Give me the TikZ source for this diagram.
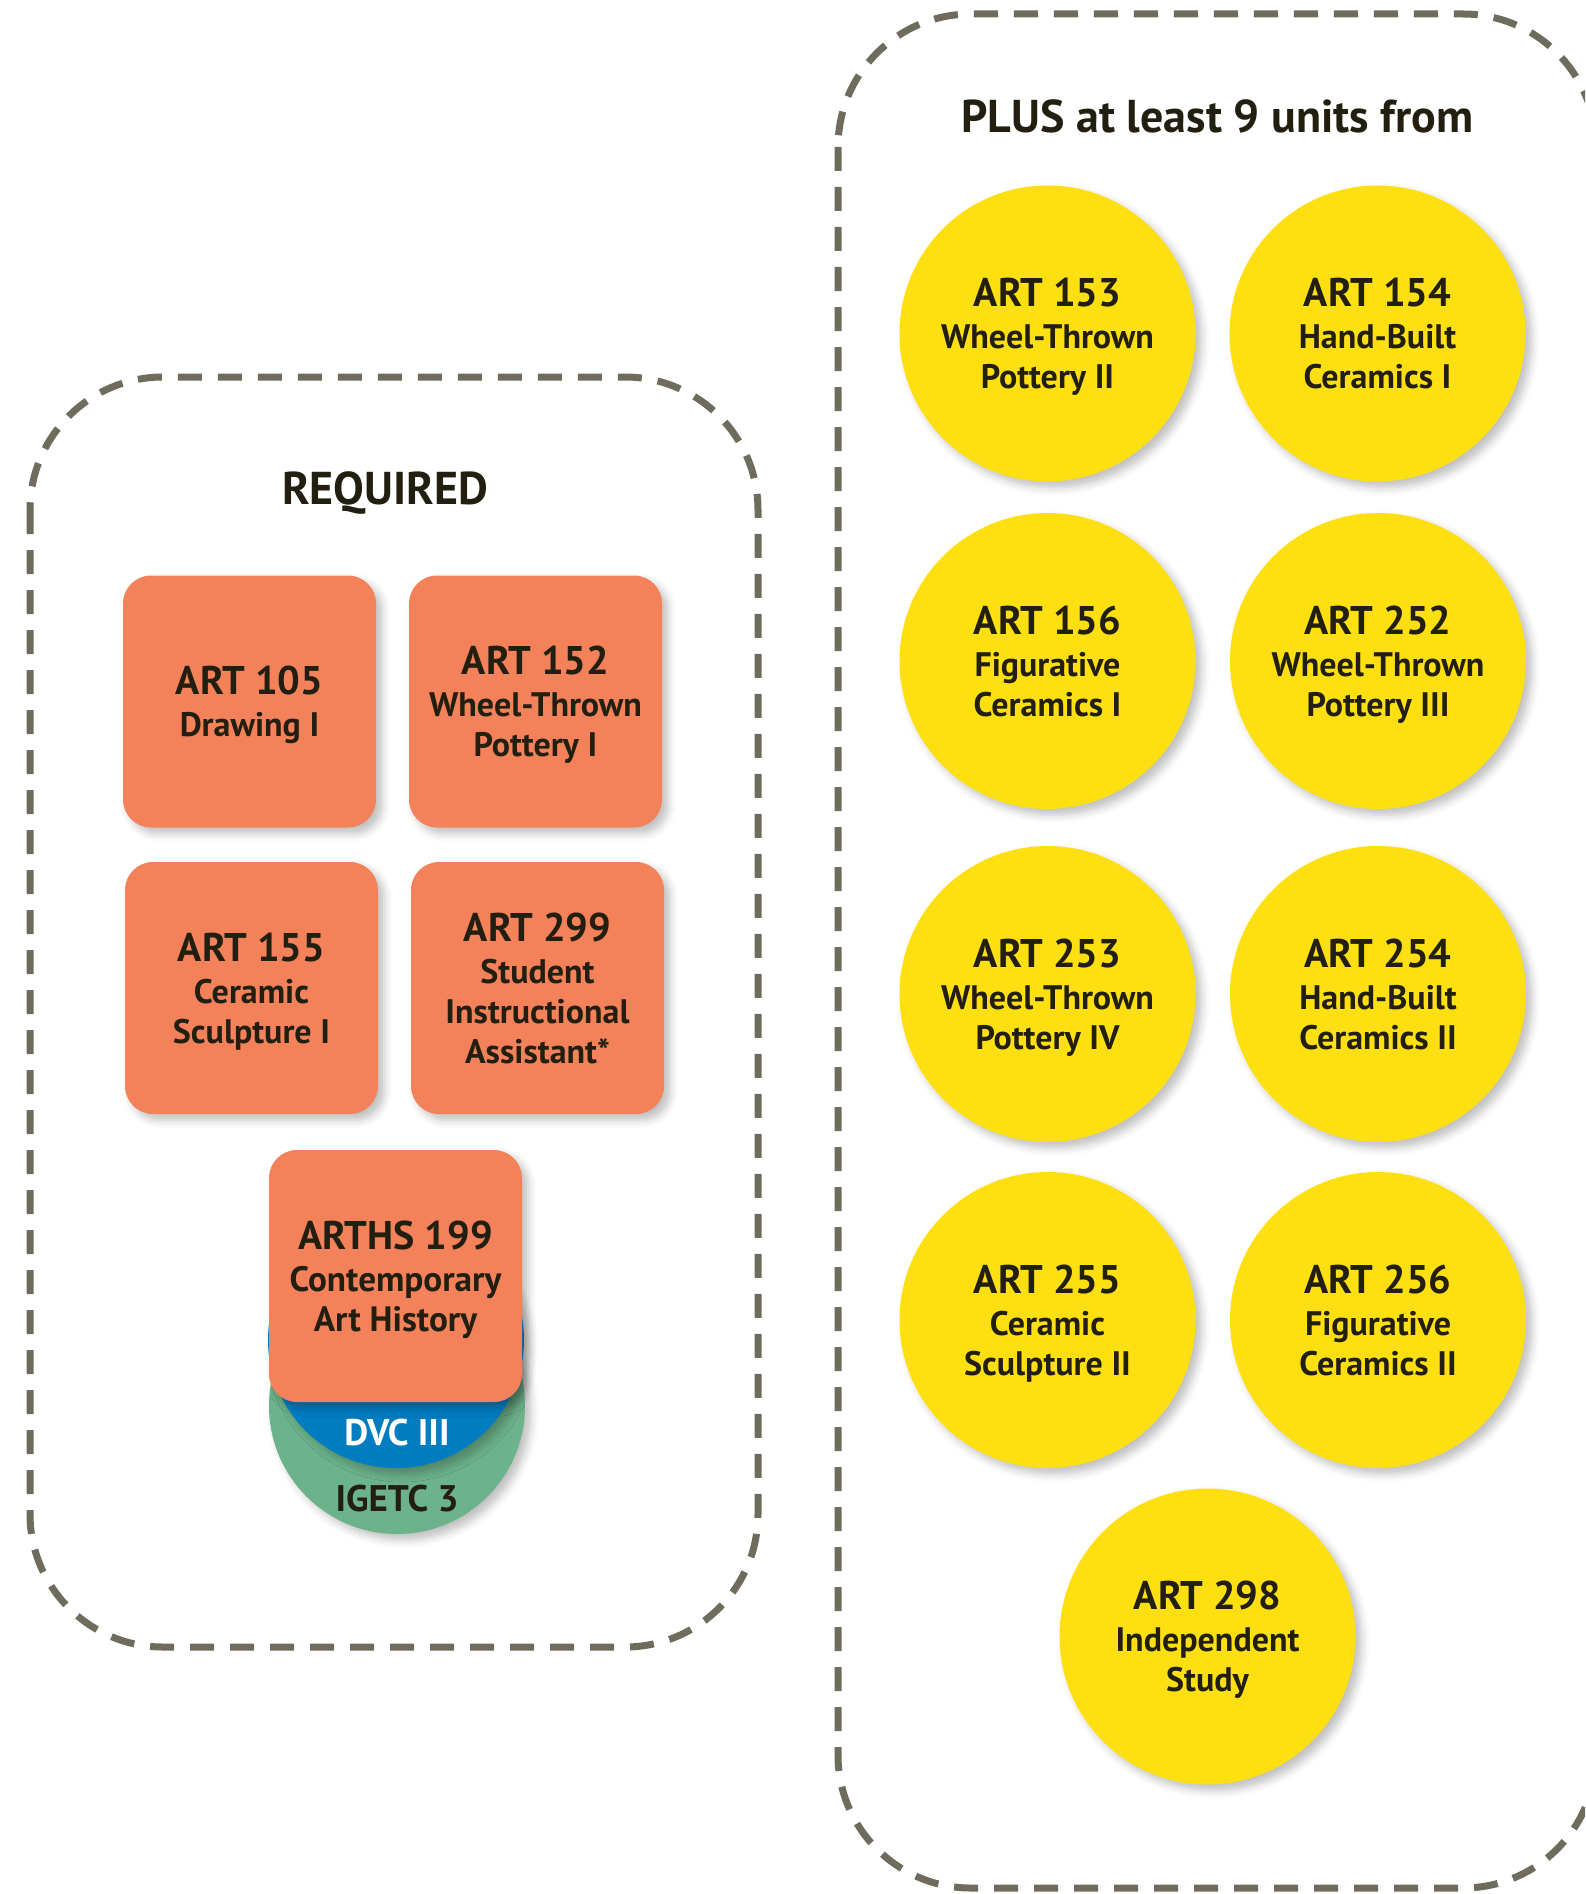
\documentclass[tikz,border=0pt]{standalone}
\usepackage{fontspec}
\setmainfont{PT Sans}
\usetikzlibrary{shadows.blur}
\definecolor{boxorange}{RGB}{243,130,90}
\definecolor{unityellow}{RGB}{254,224,18}
\definecolor{dvcblue}{RGB}{0,124,193}
\definecolor{igetcgreen}{RGB}{108,178,139}
\definecolor{dashgray}{RGB}{111,108,94}
\definecolor{inkdark}{RGB}{35,31,16}
\def\course#1#2{{\fontsize{20}{21}\selectfont #1}\\[1pt]#2}

\begin{document}
\begin{tikzpicture}[x=0.5pt,y=-0.5pt,
	every node/.style={text=inkdark},
	group/.style={draw=dashgray, line width=3.5pt, dash pattern=on 12pt off 8pt, rounded corners=66.5pt},
	title/.style={font=\bfseries\fontsize{23}{25}\selectfont, anchor=base},
	soft/.style={blur shadow={shadow xshift=3pt, shadow yshift=-3pt, shadow blur radius=4pt, shadow opacity=25}},
	req/.style={soft, fill=boxorange, rounded corners=14pt, minimum width=126.5pt, minimum height=126pt, inner sep=0pt, text depth=0pt, align=center, font=\bfseries\fontsize{17}{20}\selectfont},
	opt/.style={soft, circle, fill=unityellow, minimum size=148pt, inner sep=0pt, text depth=0pt, align=center, font=\bfseries\fontsize{17}{20}\selectfont},
	ge/.style={soft, circle, minimum size=128pt, inner sep=0pt},
	getext/.style={anchor=base, font=\bfseries\fontsize{18.5}{20}\selectfont}]
			%%%%% START %%%%%
			\useasboundingbox (0,0) rectangle (1585,1894);
			\clip (0,0) rectangle (1585,1894);
			
			% left group
			\draw[group] (30,377) rectangle (758,1647);
			\node[title] (required) at (385,504) {REQUIRED};
			
			\node[req] (art105) at (249.5,701.5) {\course{ART 105}{Drawing I}};
			\node[req] (art152) at (535.5,701.5) {\course{ART 152}{Wheel-Thrown\\Pottery I}};
			\node[req] (art155) at (251.5,988) {\course{ART 155}{Ceramic\\Sculpture I}};
			\node[req] (art299) at (537.5,988) {\course{ART 299}{Student\\Instructional\\Assistant*}};
			
			\node[ge, fill=igetcgreen] (igetc) at (397,1406) {};
			\node[ge, fill=dvcblue] (dvc) at (396,1340) {};
			\node[getext] (igetctext) at (397,1511) {IGETC 3};
			\node[getext, text=white] (dvctext) at (397,1445) {DVC III};
			\node[req, font=\bfseries\fontsize{17.6}{20}\selectfont] (arths199) at (395.5,1276) {\course{ARTHS 199}{Contemporary\\Art History}};
			
			% right group
			\draw[group] (838,14) rectangle (1596,1888);
			\node[title] (plus) at (1217.5,133) {PLUS at least 9 units from};
			
			\node[opt] (art153) at (1047.5,333.5) {\course{ART 153}{Wheel-Thrown\\Pottery II}};
			\node[opt] (art154) at (1377.5,333.5) {\course{ART 154}{Hand-Built\\Ceramics I}};
			\node[opt] (art156) at (1047.5,661) {\course{ART 156}{Figurative\\Ceramics I}};
			\node[opt] (art252) at (1378,661) {\course{ART 252}{Wheel-Thrown\\Pottery III}};
			\node[opt] (art253) at (1047.5,994) {\course{ART 253}{Wheel-Thrown\\Pottery IV}};
			\node[opt] (art254) at (1378,994) {\course{ART 254}{Hand-Built\\Ceramics II}};
			\node[opt] (art255) at (1047.5,1320) {\course{ART 255}{Ceramic\\Sculpture II}};
			\node[opt] (art256) at (1378,1320) {\course{ART 256}{Figurative\\Ceramics II}};
			\node[opt] (art298) at (1207.5,1636.5) {\course{ART 298}{Independent\\Study}};
			
			%%%%% END %%%%%
\end{tikzpicture}
\end{document}
